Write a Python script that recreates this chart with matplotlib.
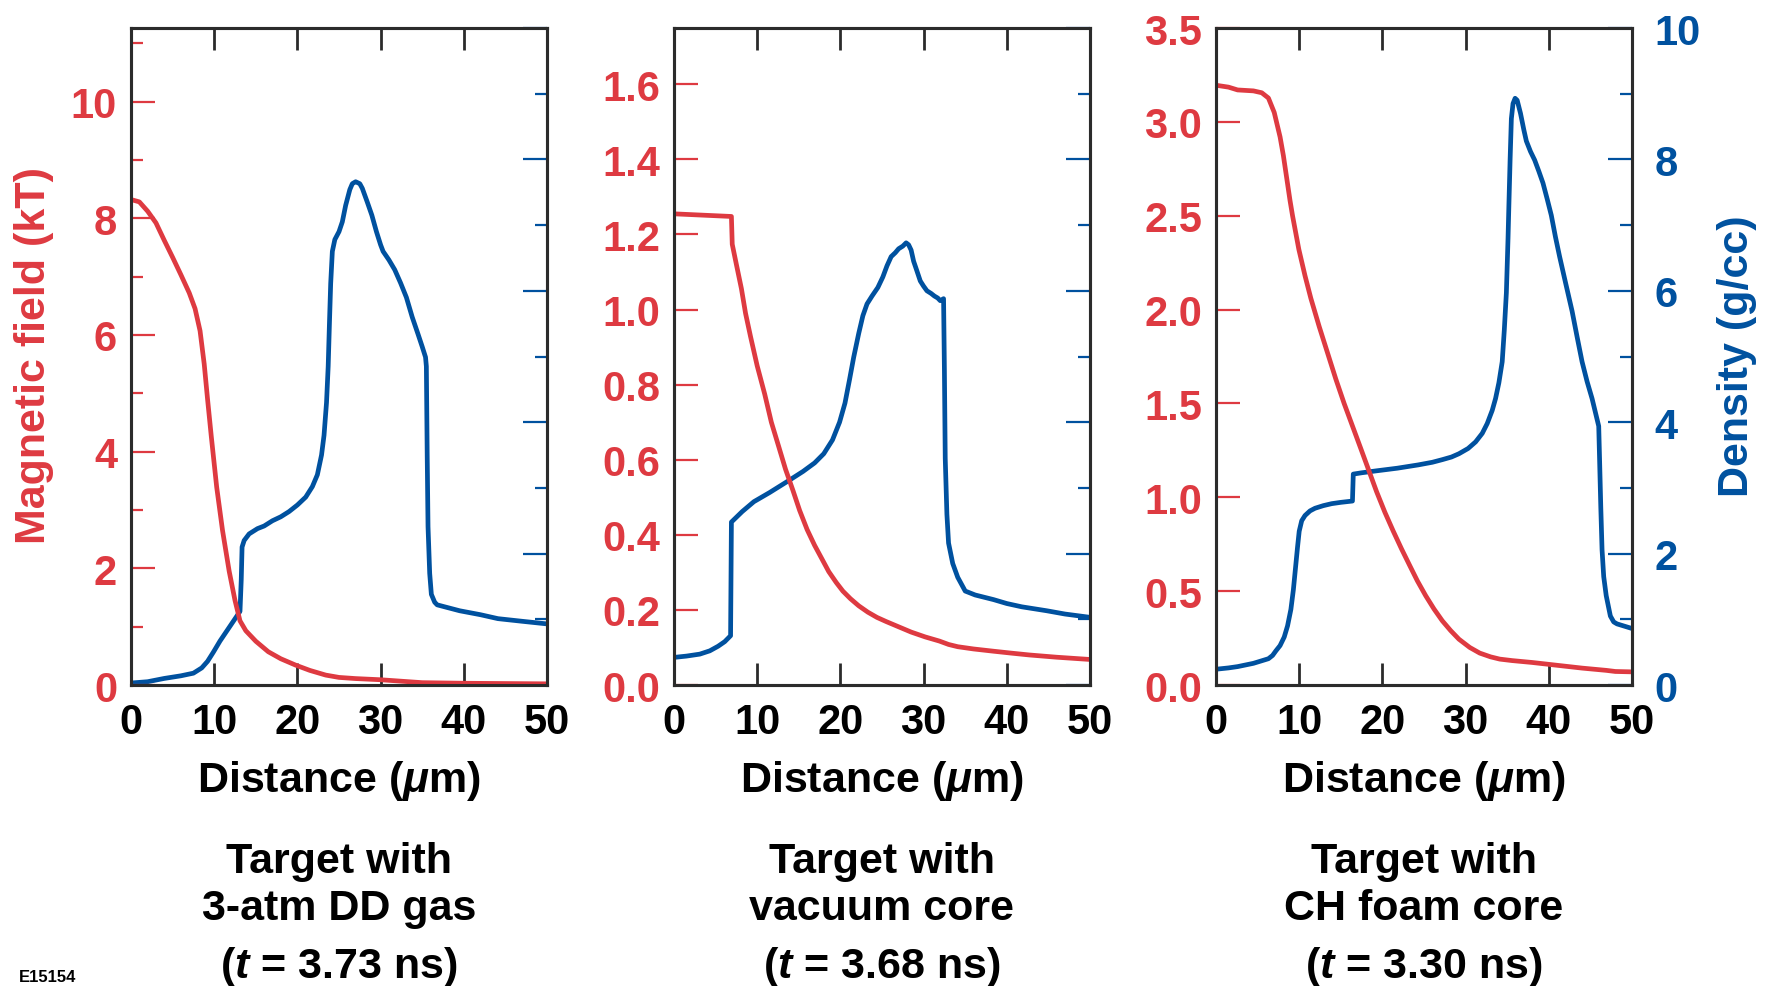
import matplotlib
matplotlib.use("Agg")
import matplotlib.pyplot as plt
from matplotlib.ticker import MultipleLocator, FuncFormatter

plt.rcParams["font.family"] = ["Liberation Sans", "DejaVu Sans"]
plt.rcParams["font.weight"] = "bold"
plt.rcParams["mathtext.fontset"] = "custom"
plt.rcParams["mathtext.rm"] = "Liberation Sans:bold"
plt.rcParams["mathtext.it"] = "Liberation Sans:italic:bold"

RED = "#de3a41"
BLUE = "#00519f"
SPINE = "#2b2b2b"

# Panel 1: 3-atm DD gas
x_b1 = [0, 1, 2, 3, 4, 5, 6, 7, 7.7, 8.3, 8.8, 9.2, 9.65, 10.3, 11.0, 11.8, 12.5, 13.1,
        13.8, 15, 16.5, 18, 19.8, 21.5, 23.4, 25, 27, 30, 33, 35, 40, 50]
b1 = [8.32, 8.28, 8.12, 7.92, 7.62, 7.33, 7.03, 6.72, 6.45, 6.07, 5.5, 4.9, 4.26, 3.39,
      2.65, 1.95, 1.45, 1.10, 0.93, 0.75, 0.57, 0.45, 0.34, 0.25, 0.17, 0.13, 0.11,
      0.09, 0.06, 0.04, 0.03, 0.02]
x_d1 = [0, 2, 4, 6, 7.5, 8.5, 9.2, 9.9, 10.7, 11.5, 12.3, 13.1, 13.25, 13.35, 13.6, 14.2,
        15.2, 16, 17, 18, 19, 20, 21, 21.8, 22.4, 22.9, 23.2, 23.5, 23.7, 23.85, 24.0,
        24.2, 24.5, 25, 25.4, 25.8, 26.3, 26.6, 27.0, 27.5, 27.8, 28.4, 28.95, 29.5,
        30.0, 30.3, 31.0, 31.7, 32.4, 33.1, 33.8, 34.5, 35.0, 35.4, 35.5, 35.6, 35.7,
        35.9, 36.1, 36.5, 36.8, 38, 39.5, 42, 44.1, 47, 50]
d1 = [0.03, 0.05, 0.10, 0.14, 0.18, 0.26, 0.36, 0.50, 0.67, 0.82, 0.97, 1.12, 1.6, 2.1,
      2.2, 2.30, 2.38, 2.42, 2.50, 2.56, 2.64, 2.74, 2.86, 3.02, 3.2, 3.5, 3.8, 4.3,
      4.85, 5.5, 6.11, 6.6, 6.78, 6.9, 7.05, 7.3, 7.54, 7.63, 7.66, 7.63, 7.56, 7.35,
      7.15, 6.9, 6.7, 6.6, 6.47, 6.32, 6.12, 5.90, 5.6, 5.34, 5.15, 4.99, 4.85, 3.5,
      2.41, 1.7, 1.38, 1.26, 1.22, 1.18, 1.13, 1.07, 1.01, 0.97, 0.93]

# Panel 2: vacuum core
x_b2 = [0, 6.9, 7.0, 7.5, 8.1, 8.6, 9.2, 10, 10.9, 11.7, 12.6, 13.4, 14.3, 15.1, 16.0,
        16.9, 17.8, 18.6, 19.5, 20.3, 21.2, 22.2, 23.3, 24.4, 25.5, 27, 28.5, 30.2,
        31.9, 33, 34.1, 36, 38.4, 40.5, 42.7, 46, 50]
b2 = [1.255, 1.248, 1.174, 1.12, 1.056, 0.99, 0.928, 0.85, 0.775, 0.70, 0.634, 0.575,
      0.518, 0.465, 0.414, 0.372, 0.335, 0.302, 0.273, 0.25, 0.230, 0.211, 0.194,
      0.180, 0.169, 0.155, 0.141, 0.128, 0.117, 0.108, 0.102, 0.096, 0.090, 0.085,
      0.080, 0.074, 0.068]
x_d2 = [0, 1.5, 3.1, 4.3, 5.3, 6.1, 6.8, 6.9, 8.2, 9.6, 11.5, 13.9, 15.5, 16.9, 18.0,
        19.05, 19.9, 20.55, 21.1, 21.6, 22.2, 22.7, 23.2, 23.8, 24.5, 25.1, 25.6, 26.1,
        26.6, 27.0, 27.5, 27.9, 28.2, 28.5, 28.8, 29.15, 29.6, 30.0, 30.4, 30.9, 31.3,
        31.7, 32.0, 32.4, 32.5, 32.6, 32.8, 33.0, 33.5, 34.1, 35.0, 36.2, 38.4, 40,
        41.8, 44.8, 47.0, 50]
d2 = [0.42, 0.44, 0.47, 0.52, 0.59, 0.66, 0.75, 2.48, 2.64, 2.79, 2.93, 3.12, 3.25, 3.38,
      3.52, 3.73, 4.0, 4.29, 4.65, 4.99, 5.35, 5.62, 5.8, 5.92, 6.05, 6.21, 6.38, 6.52,
      6.58, 6.64, 6.68, 6.73, 6.70, 6.62, 6.45, 6.32, 6.15, 6.07, 6.0, 5.96, 5.92,
      5.89, 5.85, 5.88, 4.8, 3.45, 2.6, 2.16, 1.85, 1.64, 1.43, 1.37, 1.30, 1.24, 1.19,
      1.13, 1.08, 1.03]

# Panel 3: CH foam core
x_b3 = [0, 1.5, 2.6, 4.5, 5.5, 6.3, 7.0, 7.7, 8.1, 8.5, 8.9, 9.2, 9.96, 10.7, 11.4, 12.4,
        13.4, 14.4, 15.4, 16.4, 17.4, 18.35, 19.3, 20.3, 21.3, 22.3, 23.3, 24.2, 25.2,
        26.2, 27.2, 28.2, 29.2, 30.5, 31.7, 33, 34.1, 35.6, 38, 40.0, 44.0, 46.9, 48, 50]
b3 = [3.195, 3.185, 3.17, 3.165, 3.155, 3.127, 3.05, 2.92, 2.82, 2.70, 2.58, 2.50, 2.32,
      2.18, 2.06, 1.91, 1.77, 1.63, 1.50, 1.38, 1.26, 1.145, 1.03, 0.92, 0.82, 0.725,
      0.635, 0.555, 0.476, 0.405, 0.342, 0.29, 0.244, 0.20, 0.17, 0.15, 0.138, 0.13,
      0.12, 0.11, 0.09, 0.078, 0.072, 0.07]
x_d3 = [0, 1.5, 2.6, 4.5, 6.3, 6.8, 7.2, 7.7, 8.2, 8.6, 9.0, 9.3, 9.5, 9.8, 10.0, 10.3,
        10.7, 11.3, 11.9, 12.9, 13.9, 15, 16.4, 16.5, 17.5, 19.3, 21.8, 24.3, 26, 27.2,
        28.3, 29.2, 30.3, 31.2, 32.0, 32.6, 33.2, 33.6, 34.0, 34.4, 34.65, 34.9, 35.1,
        35.2, 35.35, 35.5, 35.7, 35.95, 36.2, 36.6, 37.0, 37.3, 37.8, 38.3, 38.8, 39.3,
        39.8, 40.3, 40.8, 41.3, 42.0, 42.8, 43.4, 44.0, 44.6, 45.2, 45.6, 46.0, 46.1,
        46.25, 46.4, 46.6, 46.9, 47.4, 47.8, 48.2, 50]
d3 = [0.24, 0.26, 0.28, 0.33, 0.40, 0.45, 0.52, 0.60, 0.73, 0.90, 1.15, 1.45, 1.71, 2.1,
      2.34, 2.5, 2.58, 2.65, 2.69, 2.73, 2.76, 2.78, 2.80, 3.21, 3.23, 3.26, 3.30, 3.35,
      3.39, 3.43, 3.47, 3.52, 3.60, 3.70, 3.83, 3.98, 4.18, 4.36, 4.6, 4.92, 5.4, 5.97,
      6.8, 7.29, 8.0, 8.62, 8.85, 8.93, 8.90, 8.70, 8.45, 8.28, 8.12, 7.99, 7.82, 7.64,
      7.4, 7.15, 6.82, 6.52, 6.13, 5.69, 5.3, 4.92, 4.62, 4.36, 4.15, 3.94, 3.45, 2.7,
      2.06, 1.65, 1.36, 1.05, 0.96, 0.93, 0.86]

b_limits = [11.26, 1.75, 3.5]
b_steps = [2, 0.2, 0.5]
b_formats = ["{:.0f}", "{:.1f}", "{:.1f}"]
titles = [["Target with", "3-atm DD gas", "($t$ = 3.73 ns)"],
          ["Target with", "vacuum core", "($t$ = 3.68 ns)"],
          ["Target with", "CH foam core", "($t$ = 3.30 ns)"]]

W, H = 1774, 987
fig = plt.figure(figsize=(W / 100, H / 100), dpi=100)

lefts = [131, 674, 1216]
ax_w, ax_top, ax_bot = 416, 29, 686
FS = 30
LFS = 31

panels = [(x_b1, b1, x_d1, d1), (x_b2, b2, x_d2, d2), (x_b3, b3, x_d3, d3)]

for i, (xb, b, xd, d) in enumerate(panels):
    left = lefts[i]
    ax = fig.add_axes([left / W, 1 - ax_bot / H, ax_w / W, (ax_bot - ax_top) / H])
    ax2 = ax.twinx()
    ax.set_zorder(ax2.get_zorder() + 1)
    ax.patch.set_visible(False)

    ax2.plot(xd, d, color=BLUE, lw=3.4, solid_joinstyle="round", solid_capstyle="butt")
    ax.plot(xb, b, color=RED, lw=3.4, solid_joinstyle="round", solid_capstyle="butt")

    ax.set_xlim(0, 50)
    ax.set_ylim(0, b_limits[i])
    ax2.set_ylim(0, 10)

    ax.xaxis.set_major_locator(MultipleLocator(10))
    ax.tick_params(axis="x", which="major", direction="in", top=True, length=16,
                   width=2, color=SPINE, labelsize=FS, pad=12)

    # left axis: magnetic field
    ax.yaxis.set_major_locator(MultipleLocator(b_steps[i]))
    ax.yaxis.set_major_formatter(FuncFormatter(lambda v, p, f=b_formats[i]: f.format(v)))
    ax.tick_params(axis="y", which="major", direction="in", length=17, width=1.6,
                   color=RED, labelcolor=RED, labelsize=FS, pad=10)
    if i == 0:
        ax.yaxis.set_minor_locator(MultipleLocator(1))
        ax.tick_params(axis="y", which="minor", direction="in", length=8.5,
                       width=1.6, color=RED)

    # right axis: density
    ax2.yaxis.set_major_locator(MultipleLocator(2))
    ax2.yaxis.set_minor_locator(MultipleLocator(1))
    ax2.tick_params(axis="y", which="major", direction="in", length=17, width=1.6,
                    color=BLUE, labelcolor=BLUE, labelsize=FS, pad=16,
                    labelright=(i == 2))
    ax2.tick_params(axis="y", which="minor", direction="in", length=8.5, width=1.6,
                    color=BLUE)

    for a in (ax, ax2):
        for sp in a.spines.values():
            sp.set_color(SPINE)
            sp.set_linewidth(2.2)

    ax.set_xlabel("Distance ($\\mathit{\\mu}$m)", fontsize=LFS, fontweight="bold",
                  labelpad=12)

    cx = (left + ax_w / 2) / W
    for line, y in zip(titles[i], [862, 909, 967]):
        fig.text(cx, 1 - y / H, line, fontsize=LFS, fontweight="bold",
                 ha="center", va="center")

fig.text(34 / W, 1 - 356 / H, "Magnetic field (kT)", color=RED, fontsize=LFS,
         fontweight="bold", rotation=90, ha="center", va="center")
fig.text(1737 / W, 1 - 356 / H, "Density (g/cc)", color=BLUE, fontsize=LFS,
         fontweight="bold", rotation=90, ha="center", va="center")
fig.text(19 / W, 2 / H, "E15154", fontsize=12, fontweight="bold",
         ha="left", va="bottom")

fig.savefig("out.png", dpi=100)
